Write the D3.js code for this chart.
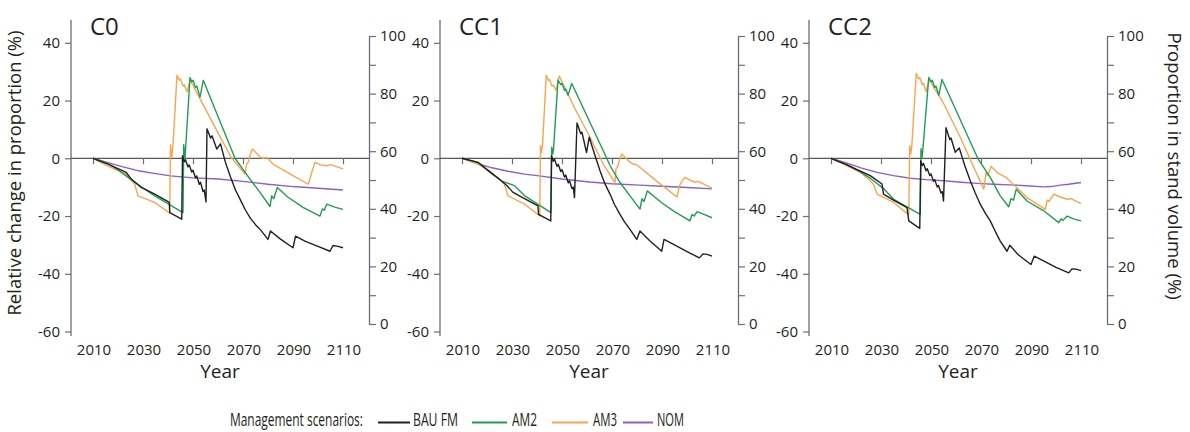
<!DOCTYPE html>
<html><head><meta charset="utf-8">
<script src="https://cdn.jsdelivr.net/npm/d3@7"></script>
<style>
body{margin:0;background:#fff}
text{font-family:"Open Sans",sans-serif;fill:#231f20}
</style>
</head><body>
<svg id="chart" width="1190" height="432"></svg>
<script>
// ---------- data ----------
const panelTitles = ["C0", "CC1", "CC2"];
const scenarios = ["BAU FM", "AM2", "AM3", "NOM"];
const scenarioColors = ["#231f20", "#1e9e55", "#f9a54c", "#8b5fc6"];
const leftTicks = [-60, -40, -20, 0, 20, 40];
const rightTicks = [0, 10, 20, 30, 40, 50, 60, 70, 80, 90, 100];
const rightTickLabels = [0, 20, 40, 60, 80, 100];
const yearTicks = [2010, 2030, 2050, 2070, 2090, 2110];

// C0
const C0_BAU = [[2010,0],[2016,-2],[2023.3,-4.9],[2025.3,-7.2],[2029.3,-10.1],[2034.7,-12.4],[2040.5,-15.3],[2040.7,-18.8],[2045.5,-21.1],[2045.8,0.9],[2046.5,-1.2],[2047,-0.5],[2048,-3],[2048.5,-2.3],[2049.5,-4.8],[2050,-4.1],[2051,-6.8],[2051.5,-6.1],[2052.5,-9],[2053,-8.3],[2054,-11.5],[2054.5,-11],[2055.2,-15.1],[2055.6,10.2],[2057,7],[2057.6,7.8],[2059.5,3.2],[2061,5],[2063,-1.5],[2065,-6.5],[2067,-11],[2069,-14.5],[2071,-18],[2073,-20.8],[2075,-23],[2077,-24.8],[2080,-28.1],[2081,-25.2],[2085,-28],[2090,-31],[2091,-27],[2095,-28.8],[2100,-30.5],[2104.8,-32.2],[2106,-30.2],[2108,-30.5],[2110,-31]];
const C0_AM2 = [[2010,0],[2016,-1.8],[2020,-4],[2025,-7.2],[2030,-10.3],[2034.7,-13],[2046,-18.8],[2046.3,4.7],[2046.8,0],[2048.8,28],[2049.5,26.5],[2050,27],[2051,24.5],[2051.5,25],[2052.8,21.2],[2054.1,27],[2066.8,0],[2072.8,-7.2],[2076.8,-11.8],[2080.8,-16.7],[2081.5,-13],[2082.3,-14],[2083.7,-10.1],[2088,-13.5],[2094,-17],[2100.8,-20],[2101.8,-17.5],[2102.5,-18],[2103.5,-15.9],[2107,-17],[2110,-17.7]];
const C0_AM3 = [[2010,0],[2016,-2.7],[2023.3,-5.5],[2026.7,-9],[2028,-13],[2034.7,-15.3],[2040.7,-19],[2041,4.6],[2041.5,0.5],[2042,4.6],[2043.6,28.8],[2044.5,27],[2045,27.5],[2046,25],[2046.5,25.5],[2047.7,23],[2048.8,27.2],[2055,17],[2060.8,7.5],[2065.5,0],[2070.8,-5.5],[2071.5,-2],[2072,-1.5],[2072.8,0.9],[2073.7,3.2],[2076,1.2],[2077,0.3],[2078.1,0],[2079.5,0.3],[2082,-2],[2090,-6],[2096.1,-9],[2097,-6.5],[2097.5,-4.9],[2098,-3.5],[2098.8,-1.4],[2101,-2.3],[2103.5,-2.6],[2105,-2.2],[2110,-3.7]];
const C0_NOM = [[2010,0],[2016,-1.5],[2022,-3],[2028,-4.3],[2035,-5.3],[2041,-6.1],[2050,-6.8],[2060,-7.2],[2070,-8],[2080,-9],[2090,-9.8],[2100,-10.4],[2110,-11]];

// CC1
const CC1_BAU = [[2010,0],[2016.4,-1.4],[2020,-4],[2025.7,-7.8],[2028,-9.5],[2030.4,-11.8],[2035,-14],[2040.4,-16.5],[2040.6,-19.4],[2045.5,-21.7],[2045.8,0.9],[2046.5,-1],[2047,-0.3],[2048,-2.8],[2048.5,-2.1],[2049.5,-4.6],[2050,-3.9],[2051,-6.5],[2051.5,-5.8],[2052.5,-8.5],[2053,-7.8],[2054,-10.5],[2054.5,-10],[2055,-13.6],[2056,12.2],[2057.5,8.5],[2058,9],[2059.8,2],[2060.9,7.3],[2063,1.5],[2065.2,-4.3],[2067,-8.5],[2069.2,-12.4],[2071,-16],[2073.2,-19.4],[2075,-22],[2077.2,-24.6],[2079.9,-28.1],[2081.2,-25.2],[2085,-28.5],[2089.9,-32.2],[2090.8,-28.1],[2095,-30],[2100,-32.3],[2104.9,-34.5],[2106.5,-33.1],[2108,-33.3],[2110,-33.9]];
const CC1_AM2 = [[2010,0],[2016.4,-1.4],[2020,-3.8],[2025.7,-7.8],[2031,-9.5],[2035.1,-13],[2045.6,-18.8],[2045.9,3.8],[2046.3,1.5],[2046.6,3],[2048.4,27.1],[2049.5,25.5],[2050,26],[2051,23.5],[2051.5,24],[2052.4,21.8],[2053.9,25.9],[2067.9,0],[2069.2,-2.5],[2073.2,-8.4],[2077.2,-13],[2081.2,-17.6],[2082,-14],[2082.8,-15],[2084.1,-11.3],[2090,-15.5],[2095,-18.5],[2101.2,-21.7],[2102,-19.5],[2102.8,-20],[2104.1,-18.5],[2107,-19.5],[2110,-20.6]];
const CC1_AM3 = [[2010,0],[2016.4,-2],[2022,-5],[2025.7,-7.8],[2027,-9],[2028.4,-13],[2035.1,-15.9],[2041.1,-20],[2041.4,4.4],[2041.8,2.1],[2042.2,4.4],[2043.7,28.8],[2044.5,27],[2045,27.3],[2046,25],[2046.5,25.3],[2047.7,23.6],[2048.9,28.5],[2055,17.5],[2061.2,7.3],[2066.5,-2],[2071.2,-8.4],[2071.6,-3.5],[2072.2,-3],[2073,-0.5],[2073.9,1.5],[2076.5,-0.8],[2077.5,-1.5],[2078.5,-2],[2080,-2.3],[2088,-8],[2096,-13.4],[2097,-9.5],[2098,-8],[2099.2,-6.6],[2101,-7.5],[2103.2,-8.3],[2104.5,-8],[2110,-10.3]];
const CC1_NOM = [[2010,0],[2016,-1.8],[2022,-3.3],[2028.4,-4.5],[2035,-5.5],[2041.7,-6.2],[2050,-7.2],[2061,-8.2],[2070,-8.8],[2081,-9.3],[2090,-9.7],[2100,-10.1],[2110,-10.6]];

// CC2
const CC2_BAU = [[2010,0],[2016.4,-2.3],[2020,-3.8],[2025.7,-6],[2030.4,-8.9],[2031,-12.4],[2035,-14.5],[2040.4,-17.1],[2041.1,-21.7],[2045.5,-24.3],[2045.9,-0.8],[2046.5,-2.5],[2047,-1.8],[2048,-4.3],[2048.5,-3.6],[2049.5,-6],[2050,-5.4],[2051,-8],[2051.5,-7.4],[2052.5,-10],[2053,-9.4],[2054,-12],[2054.5,-11.5],[2055,-14.8],[2056,10.6],[2057.5,6.5],[2058,7],[2059.7,2.1],[2061.3,3.6],[2063.5,-2.5],[2065.7,-7.8],[2067.7,-12],[2069.7,-15.9],[2071.7,-19],[2073.7,-21.7],[2075.7,-25.3],[2077.7,-28.7],[2080.4,-32.2],[2081.5,-30.1],[2085,-33.5],[2090,-36.8],[2091.3,-33.9],[2095,-35.5],[2100,-37.8],[2105.1,-39.7],[2106.4,-38.3],[2108,-38.4],[2110,-38.9]];
const CC2_AM2 = [[2010,0],[2016.4,-2.2],[2020,-3.8],[2025.7,-6.9],[2031.3,-10.7],[2035.1,-14.2],[2045.7,-19.4],[2046,3.3],[2046.4,0.3],[2046.7,2.5],[2049.1,28],[2050,26.5],[2050.5,27],[2051.5,24.5],[2052,25],[2053.1,21.8],[2054.4,27.3],[2068.7,0],[2073.7,-6.6],[2077.7,-13],[2081.1,-16.8],[2082,-14],[2083,-14.5],[2084.1,-10.7],[2088.4,-14.8],[2095.1,-18.2],[2101.1,-22.3],[2102,-21],[2102.8,-21.5],[2104.5,-20],[2107,-21],[2110,-21.7]];
const CC2_AM3 = [[2010,0],[2016.4,-2.6],[2022,-5],[2025.7,-7.8],[2027,-9],[2028.4,-12.4],[2035.1,-15.3],[2041.1,-19.6],[2041.5,4.4],[2041.9,1.5],[2042.3,4],[2044.1,29.4],[2045,27.5],[2045.5,28],[2046.5,25.5],[2047,26],[2048.1,23],[2049.2,27.3],[2055.1,18.9],[2061.7,7.3],[2067.1,-3.1],[2071.1,-10.7],[2072,-5],[2072.7,-6],[2074.1,-2.8],[2076.5,-5],[2077.5,-5.5],[2080,-6.6],[2088.4,-13.6],[2095.7,-17.7],[2096.5,-14.5],[2097.2,-15],[2099.1,-12.4],[2102,-13.5],[2104.5,-14.2],[2106,-14],[2110,-15.7]];
const CC2_NOM = [[2010,0],[2016.4,-1.7],[2022,-3.3],[2028.4,-4.9],[2035,-6],[2041.7,-6.9],[2048,-7.4],[2055.1,-7.8],[2062,-8.3],[2068.4,-8.7],[2075,-9],[2081.7,-9.2],[2088,-9.5],[2095.1,-9.9],[2098,-9.8],[2101.7,-9.3],[2105,-9],[2110,-8.4]];

const panelSeries = [
  [C0_BAU, C0_AM2, C0_AM3, C0_NOM],
  [CC1_BAU, CC1_AM2, CC1_AM3, CC1_NOM],
  [CC2_BAU, CC2_AM2, CC2_AM3, CC2_NOM]
];

// ---------- drawing ----------
const svg = d3.select("#chart");
const axisColor = "#6d6e71";
const panelW = 298;
const drawOrder = [3, 2, 1, 0];

panelTitles.forEach((title, i) => {
  const L = 71 + i * 369;
  const g = svg.append("g");
  const x = d3.scaleLinear().domain([2010, 2110]).range([L + 22, L + 272]);
  const yL = d3.scaleLinear().domain([-60, 40]).range([331.5, 42.8]);
  const yR = d3.scaleLinear().domain([0, 100]).range([324, 36]);

  // left axis
  const la = g.append("g").attr("transform", `translate(${L},0)`)
    .call(d3.axisLeft(yL).tickValues(leftTicks).tickSize(6).tickPadding(5).tickFormat(d => String(d)));
  la.select(".domain").remove();
  la.append("line").attr("x1", 0).attr("x2", 0).attr("y1", 20).attr("y2", 336)
    .attr("stroke", axisColor).attr("stroke-width", 1.3);
  la.selectAll(".tick line").attr("stroke", axisColor).attr("stroke-width", 1.2);
  la.selectAll(".tick text").attr("font-size", 15).attr("font-family", "Open Sans").attr("fill", "#231f20");

  // right axis
  const ra = g.append("g").attr("transform", `translate(${L + panelW},0)`)
    .call(d3.axisRight(yR).tickValues(rightTicks).tickSize(7).tickSizeOuter(0).tickPadding(4)
      .tickFormat(d => rightTickLabels.includes(d) ? String(d) : ""));
  ra.select(".domain").attr("stroke", axisColor).attr("stroke-width", 1.3);
  ra.selectAll(".tick line").attr("stroke", axisColor).attr("stroke-width", 1.2);
  ra.selectAll(".tick text").attr("font-size", 15).attr("font-family", "Open Sans").attr("fill", "#231f20");

  // zero line + year ticks
  g.append("line").attr("x1", L).attr("x2", L + panelW)
    .attr("y1", yL(0)).attr("y2", yL(0)).attr("stroke", "#58595b").attr("stroke-width", 1.3);
  const xa = g.append("g").attr("transform", `translate(0,${yL(0)})`)
    .call(d3.axisBottom(x).tickValues(yearTicks).tickSize(6).tickFormat(""));
  xa.select(".domain").remove();
  xa.selectAll(".tick line").attr("stroke", axisColor).attr("stroke-width", 1.2);

  // year labels
  g.selectAll(".yl").data(yearTicks).enter().append("text")
    .attr("x", d => x(d) + 1).attr("y", 355).attr("text-anchor", "middle")
    .attr("font-size", 15).text(d => d);
  g.append("text").attr("x", L + panelW / 2).attr("y", 378).attr("text-anchor", "middle")
    .attr("font-size", 19).text("Year");

  // title
  g.append("text").attr("x", L + 19).attr("y", 35).attr("font-size", 24).text(title);

  // lines
  const line = d3.line().x(d => x(d[0])).y(d => yL(d[1]));
  drawOrder.forEach(k => {
    g.append("path").datum(panelSeries[i][k]).attr("d", line)
      .attr("fill", "none").attr("stroke", scenarioColors[k])
      .attr("stroke-width", 1.4).attr("stroke-linejoin", "round");
  });
});

// axis titles
svg.append("text").attr("transform", "translate(21,173) rotate(-90)")
  .attr("text-anchor", "middle").attr("font-size", 18.5).text("Relative change in proportion (%)");
svg.append("text").attr("transform", "translate(1168,166) rotate(90)")
  .attr("text-anchor", "middle").attr("font-size", 18.5).text("Proportion in stand volume (%)");

// legend (condensed text via horizontal scaling)
const lg = svg.append("g");
function condensed(str, x0, width) {
  const t = lg.append("text").attr("font-size", 18.5).text(str);
  const w = t.node().getComputedTextLength();
  t.attr("transform", `translate(${x0},425.5) scale(${width / w},1)`);
}
condensed("Management scenarios:", 230, 133);
const legendLayout = [
  {x1: 378, x2: 410, tx: 413, tl: 45},
  {x1: 472, x2: 507, tx: 512, tl: 25},
  {x1: 552, x2: 588, tx: 593, tl: 24},
  {x1: 623, x2: 653, tx: 657, tl: 27}
];
scenarios.forEach((s, k) => {
  const p = legendLayout[k];
  lg.append("line").attr("x1", p.x1).attr("x2", p.x2).attr("y1", 422.5).attr("y2", 422.5)
    .attr("stroke", scenarioColors[k]).attr("stroke-width", 2);
  condensed(s, p.tx, p.tl);
});
</script>
</body></html>
